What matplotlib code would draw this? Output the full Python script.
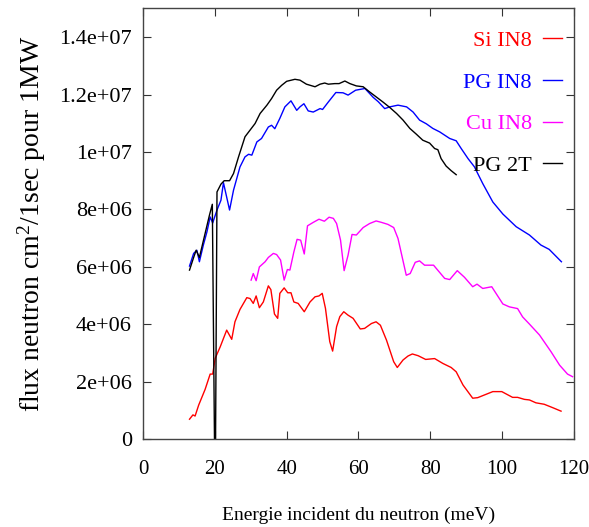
import matplotlib
matplotlib.use("Agg")
import matplotlib.pyplot as plt

# values (energy in meV, flux in units of 1e6)
si_e = [12.95, 13.9, 14.5, 15.5, 17.3, 18.7, 19.4, 20.1, 21.5, 23.3, 24.7, 25.6,
        27.0, 28.9, 29.8, 30.7, 31.5, 32.4, 33.5, 34.9, 35.6, 36.6, 37.5, 38.1,
        39.3, 40.3, 41.2, 42.0, 43.2, 44.9, 46.5, 47.9, 49.0, 49.9, 50.8, 52.0,
        52.8, 53.9, 54.8, 55.9, 57.1, 58.5, 60.5, 61.7, 63.6, 64.9, 66.1, 67.8,
        69.8, 70.8, 72.4, 73.8, 75.0, 76.6, 78.7, 81.2, 83.5, 85.8, 87.2, 89.1,
        91.8, 93.2, 97.4, 99.9, 102.9, 104.3, 106.2, 107.6, 109.4, 111.7, 114.1,
        116.4]
si_flux = [0.70, 0.85, 0.81, 1.19, 1.74, 2.27, 2.27, 2.82, 3.22, 3.80, 3.48, 4.09,
           4.52, 4.93, 4.90, 4.73, 4.99, 4.58, 4.78, 5.34, 5.21, 4.36, 4.21, 5.08,
           5.27, 5.10, 5.10, 4.78, 4.73, 4.44, 4.78, 4.96, 4.99, 5.08, 4.56, 3.40,
           3.07, 3.92, 4.27, 4.44, 4.32, 4.21, 3.84, 3.86, 4.03, 4.09, 3.97, 3.45,
           2.70, 2.50, 2.76, 2.90, 2.97, 2.91, 2.78, 2.81, 2.64, 2.50, 2.35, 1.89,
           1.43, 1.45, 1.66, 1.66, 1.46, 1.46, 1.39, 1.37, 1.27, 1.22, 1.10, 0.98]

pg_e = [12.95, 14.1, 15.0, 15.7, 16.8, 17.8, 18.7, 19.4, 20.6, 21.7, 22.4, 24.1,
        25.2, 27.0, 28.4, 29.4, 30.3, 31.7, 33.0, 34.9, 35.8, 36.7, 38.1, 39.5,
        41.2, 42.8, 43.7, 44.8, 46.0, 47.4, 49.3, 50.0, 51.6, 53.7, 55.7, 57.1,
        59.2, 61.8, 64.1, 65.5, 67.3, 68.7, 71.0, 73.4, 75.2, 77.0, 78.9, 80.7,
        82.6, 85.4, 87.2, 88.6, 90.5, 92.3, 93.2, 94.6, 97.4, 100.2, 103.9, 107.6,
        110.8, 113.1, 116.5]
pg_flux = [6.03, 6.47, 6.58, 6.18, 6.76, 7.22, 7.74, 7.53, 7.98, 8.32, 8.93, 7.98,
           8.67, 9.48, 9.83, 9.92, 9.89, 10.35, 10.47, 10.87, 10.93, 10.81, 11.17,
           11.57, 11.78, 11.45, 11.57, 11.68, 11.43, 11.39, 11.51, 11.48, 11.74,
           12.07, 12.06, 11.98, 12.15, 12.21, 11.90, 11.75, 11.51, 11.57, 11.63,
           11.57, 11.39, 11.11, 10.98, 10.82, 10.70, 10.47, 10.39, 10.12, 9.77,
           9.48, 9.25, 8.90, 8.26, 7.84, 7.40, 7.11, 6.76, 6.61, 6.18]

cu_e = [30.1, 30.7, 31.5, 32.4, 34.0, 34.9, 36.3, 37.2, 38.3, 39.3, 40.2, 40.9,
        42.0, 42.9, 43.9, 44.9, 45.8, 47.4, 49.0, 50.5, 51.8, 53.0, 53.9, 55.0,
        56.0, 57.1, 58.2, 59.4, 61.3, 63.1, 64.9, 66.4, 68.2, 69.8, 71.0, 73.3,
        74.4, 75.8, 77.0, 78.4, 80.9, 84.0, 85.4, 87.5, 89.5, 91.8, 93.0, 94.6,
        97.1, 100.2, 102.0, 104.3, 105.7, 107.6, 110.4, 113.6, 116.0, 118.2, 119.6]
cu_flux = [5.54, 5.77, 5.52, 6.00, 6.18, 6.33, 6.47, 6.43, 6.24, 5.54, 5.91, 5.89,
           6.52, 6.96, 6.93, 6.45, 7.43, 7.55, 7.66, 7.59, 7.73, 7.69, 7.51, 6.93,
           5.87, 6.41, 7.13, 7.11, 7.37, 7.51, 7.60, 7.55, 7.48, 7.37, 6.99, 5.71,
           5.77, 6.16, 6.21, 6.06, 6.06, 5.60, 5.56, 5.87, 5.64, 5.31, 5.40, 5.25,
           5.31, 4.71, 4.61, 4.55, 4.26, 4.01, 3.63, 3.05, 2.58, 2.27, 2.18]

pg2t_e = [12.95, 14.1, 14.8, 15.7, 17.3, 18.5, 19.3, 19.9, 20.2, 20.6, 21.7, 22.6,
          24.1, 25.2, 26.6, 28.4, 29.8, 31.2, 32.6, 34.5, 35.8, 37.2, 38.6, 40.0,
          42.3, 43.7, 45.5, 47.9, 49.3, 50.6, 51.6, 53.4, 54.6, 56.2, 57.6, 59.4,
          61.3, 63.1, 64.9, 66.8, 68.7, 70.6, 72.4, 74.3, 76.1, 77.9, 79.8, 81.2,
          82.1, 83.0, 84.4, 85.8, 87.2]
pg2t_flux = [5.89, 6.33, 6.58, 6.33, 7.17, 7.80, 8.18, 0.0, 0.0, 8.61, 8.88, 9.00,
             9.00, 9.25, 9.83, 10.53, 10.76, 10.99, 11.34, 11.63, 11.86, 12.15,
             12.32, 12.46, 12.53, 12.50, 12.36, 12.27, 12.36, 12.40, 12.36, 12.38,
             12.38, 12.47, 12.38, 12.30, 12.27, 12.09, 11.92, 11.74, 11.55, 11.34,
             11.11, 10.82, 10.62, 10.41, 10.31, 10.12, 10.08, 9.77, 9.51, 9.35, 9.21]

series = [("Si IN8", si_e, si_flux, "#ff0000"),
          ("PG IN8", pg_e, pg_flux, "#0000ff"),
          ("Cu IN8", cu_e, cu_flux, "#ff00ff"),
          ("PG 2T", pg2t_e, pg2t_flux, "#000000")]

x_ticks = [0, 20, 40, 60, 80, 100, 120]
y_ticks = [0, 2e6, 4e6, 6e6, 8e6, 1e7, 1.2e7, 1.4e7]
y_tick_labels = ["0", "2e+06", "4e+06", "6e+06", "8e+06", "1e+07", "1.2e+07", "1.4e+07"]

plt.rcParams['font.family'] = ['Liberation Serif', 'DejaVu Serif']
plt.rcParams['mathtext.fontset'] = 'custom'
plt.rcParams['mathtext.rm'] = 'Liberation Serif'
plt.rcParams['mathtext.default'] = 'regular'

fig = plt.figure(figsize=(5.89, 5.27), dpi=100)
ax = fig.add_axes([0.2428, 0.1664, 0.7317, 0.8178])

for label, e, flux, color in series:
    ax.plot(e, [v * 1e6 for v in flux], color=color, lw=1.0, label=label)

ax.set_xlim(0, 120)
ax.set_ylim(0, 1.5e7)
ax.set_xticks(x_ticks)
ax.set_xticklabels([str(t) for t in x_ticks])
ax.set_yticks(y_ticks)
ax.set_yticklabels(y_tick_labels)
ax.tick_params(direction='in', length=6, width=0.8, top=True, right=True,
               color='#333333')
ax.tick_params(axis='x', pad=15, labelsize=15)
ax.tick_params(axis='y', pad=8, labelsize=16)
for sp in ax.spines.values():
    sp.set_linewidth(1.0)
    sp.set_color('#444444')

ax.set_xlabel("Energie incident du neutron (meV)", fontsize=14, labelpad=20)
ax.set_ylabel("flux neutron cm$^2$/1sec pour 1MW", fontsize=20, labelpad=8)

leg = ax.legend(loc='upper right', bbox_to_anchor=(0.992, 0.969),
                frameon=False, markerfirst=False,
                handlelength=0.85, handletextpad=0.5, labelspacing=0.95,
                borderaxespad=0.0, fontsize=16)
for text, (_, _, _, color) in zip(leg.get_texts(), series):
    text.set_color(color)

fig.savefig("out.png", dpi=100)
